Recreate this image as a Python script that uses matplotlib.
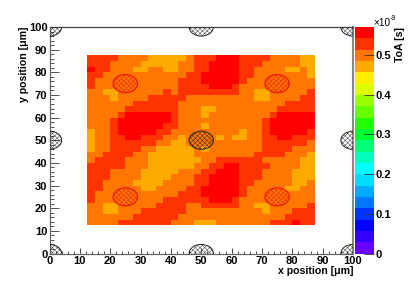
import matplotlib
matplotlib.use("Agg")
import matplotlib.pyplot as plt
import numpy as np
from matplotlib.colors import ListedColormap, BoundaryNorm
from matplotlib.patches import Ellipse
from matplotlib.cm import ScalarMappable
from matplotlib.ticker import MultipleLocator

plt.rcParams['font.family'] = ['Liberation Sans', 'DejaVu Sans']
plt.rcParams['hatch.linewidth'] = 0.3

# ToA per cell (x 12.5..87.5, y 87.5 down to 12.5, 2.5 um pitch), coded by band:
# Y, O, R, X = bands read from the palette
band_toa = {'Y': 0.47, 'O': 0.50, 'R': 0.53, 'X': 0.56}
toa_rows = [
    "RRRROOOOYYYYYOR" "RRXXXRRRROOOOYY",
    "RRROOOOYYYYYOOR" "RXXXXRRROOOOOYY",
    "XRROOOYYOOYYOOR" "RXXXXRROOOOYYOY",
    "RROOOOOOOOOOORR" "XXXXXRROOOOOOOY",
    "ROOOOOOOOOOORRR" "XXXXXROOOOOOOOO",
    "ROOOOOOOOOOORRR" "RXXXROOOOOOOOOO",
    "OOYYOOOOOOROPRR".replace('P', 'R') + "RRRRROOYYOOOOOR",
    "OOOYOOOORRRRROO" "OOOOOOOYYOOOORR",
    "OOOOOORRRRRROOO" "OOOOOOOOOOORRRR",
    "OOOOORRRRRRROOO" "YYOOOOOOOORRRRR",
    "OOOORXXXXXXROOO" "YOOOOOOOORXXXXX",
    "OOORXXXXXXXROOO" "OOOOOOOORXXXXXX",
    "OOORXXXXXXRROOO" "YOOOOOOORXXXXXX",
    "YOORXXXXXRROOOO" "OOOOOYOORXXXXXR",
    "YOORRXXRRROOYOO" "OOYOYYOORRXXRRR",
    "YOORRRRRROOYYOO" "OOOOOOOORRRRRRO",
    "YOORRRROOYYYYYO" "YOOOOOOORRRROOO",
    "OORRRROOYYYYYYO" "OOOOOOORRRROOOY",
    "ORRRROOOYYYYYYY" "OORRRRRROOOOOYY",
    "RRRRROOOYYYYYYO" "ORRXXRRRROOOOYY",
    "RRROOOOYYYYYOOO" "RRXXXRRROOOOYYY",
    "RRROOOOYYYYOOOR" "RXXXXRRROOOOYYY",
    "RROOOOYYYYOOOOR" "RXXXXRROOOOOYYO",
    "RROOOOOYYOOOORR" "XXXXXROOOOOYYOO",
    "ROOOOOOOOOOORRR" "XXXXXROOOOOOOOO",
    "ROOOOOOOOORRRRR" "RXXXROOOOOOOOOO",
    "OOYYOOOOORRRROO" "RRRRROOYYOOOOOR",
    "OOYYOOORRRRRROO" "OOOOOOOOYOOORRR",
    "OOOOOORRRRRROOO" "OOOOOOOOOOORRRR",
    "OOOORRRRRRROOOY" "YYOOOOOOORRRXRR",
]
palette = ["#6600ff", "#3300ff", "#0000ff", "#0033ff", "#0077ff", "#00aaff", "#00ddff",
           "#00ffff", "#00ffbb", "#00ff77", "#00ff33", "#22ff00", "#66ff00", "#99ff00",
           "#ddff00", "#ffee00", "#ffaa00", "#ff7700", "#ff3300", "#ff0000"]
z_max = 0.571
cbar_ticks = [0, 0.1, 0.2, 0.3, 0.4, 0.5]
axis_ticks = [0, 10, 20, 30, 40, 50, 60, 70, 80, 90, 100]
red_centres = [(25, 25), (75, 25), (25, 75), (75, 75)]
black_centres = [(50, 50), (0, 0), (50, 0), (100, 0), (0, 50), (100, 50), (0, 100), (50, 100), (100, 100)]
radius = 4.0

W, H = 415, 281
fig = plt.figure(figsize=(W / 100, H / 100), dpi=100)
ax = fig.add_axes([49.5 / W, 1 - 253.5 / H, 303.5 / W, 226.5 / H])

Z = np.array([[band_toa[c] for c in row] for row in toa_rows])[::-1]
xe = np.linspace(12.5, 87.5, 31)
ye = np.linspace(12.5, 87.5, 31)
cmap = ListedColormap(palette)
bounds = np.linspace(0, z_max, len(palette) + 1)
norm = BoundaryNorm(bounds, cmap.N)
ax.pcolormesh(xe, ye, Z, cmap=cmap, norm=norm, antialiased=False, linewidth=0, zorder=1)

for c in red_centres:
    ax.add_patch(Ellipse(c, 2 * radius, 2 * radius, fill=False, edgecolor='#ee1100',
                         hatch='x' * 7, lw=0.8, zorder=3))
for c in black_centres:
    ax.add_patch(Ellipse(c, 2 * radius, 2 * radius, fill=False, edgecolor='#222222',
                         hatch='x' * 7, lw=0.7, zorder=3))

ax.set_xlim(0, 100)
ax.set_ylim(0, 100)
ax.set_xticks(axis_ticks)
ax.set_yticks(axis_ticks)
ax.xaxis.set_minor_locator(MultipleLocator(2))
ax.yaxis.set_minor_locator(MultipleLocator(2))
ax.tick_params(axis='x', which='major', direction='in', length=4.6, width=0.6, color='#333333',
               labelsize=8, pad=1.5)
ax.tick_params(axis='x', which='minor', direction='in', length=2.3, width=0.6, color='#333333')
ax.tick_params(axis='y', which='major', direction='in', length=6.5, width=0.6, color='#333333',
               labelsize=8, pad=1.5)
ax.tick_params(axis='y', which='minor', direction='in', length=3.2, width=0.6, color='#333333')
for lab in ax.get_xticklabels() + ax.get_yticklabels():
    lab.set_fontweight('bold')
for s in ax.spines.values():
    s.set_linewidth(0.9)
    s.set_color('#444444')
ax.spines['right'].set_linewidth(1.5)
ax.spines['right'].set_color('#888888')
ax.spines['left'].set_color('#666666')
ax.spines['bottom'].set_color('#666666')

fig.text(353 / W, 1 - 271 / H, "x position [\u03bcm]", ha='right', va='center',
         fontsize=7.6, fontweight='bold')
fig.text(24 / W, 1 - 26 / H, "y position [\u03bcm]", ha='center', va='top', rotation=90,
         fontsize=7.6, fontweight='bold')

cax = fig.add_axes([355 / W, 1 - 253.5 / H, 18.5 / W, 226.5 / H])
cb = fig.colorbar(ScalarMappable(norm=norm, cmap=cmap), cax=cax, spacing='proportional',
                  ticks=cbar_ticks, drawedges=False)
cb.outline.set_visible(False)
cb.ax.minorticks_off()
cb.ax.yaxis.set_ticklabels(['0', '0.1', '0.2', '0.3', '0.4', '0.5'])
cb.ax.tick_params(axis='y', which='major', direction='in', length=7, width=0.6, color='#333333',
                  labelsize=8, pad=1.5)
for lab in cb.ax.get_yticklabels():
    lab.set_fontweight('bold')

fig.text(373.5 / W, 1 - 23 / H, "\u00d710", ha='left', va='center', fontsize=7.2)
fig.text(389.5 / W, 1 - 18 / H, "-9", ha='left', va='center', fontsize=5)
fig.text(400 / W, 1 - 27 / H, "ToA [s]", ha='center', va='top', rotation=90,
         fontsize=7.6, fontweight='bold')

fig.savefig("out.png", dpi=100)
